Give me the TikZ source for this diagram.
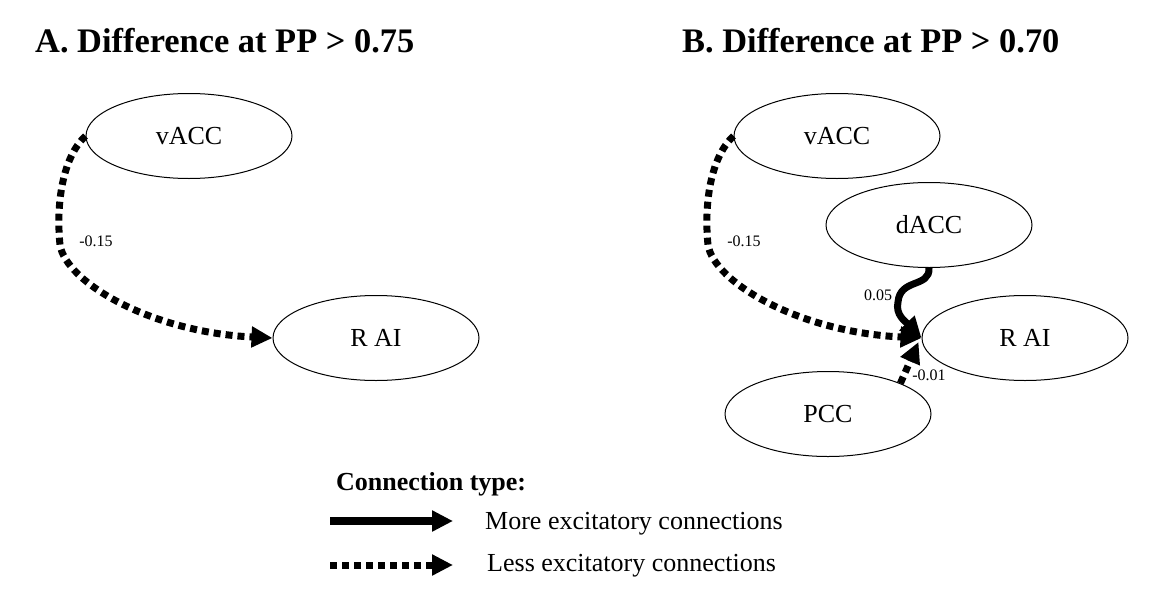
\documentclass[tikz,border=0pt]{standalone}
\usepackage{fontspec}
\setmainfont{Liberation Serif}
\usetikzlibrary{shapes.geometric,arrows.meta}
\begin{document}
\begin{tikzpicture}[x=1pt,y=-1pt,
  region/.style={ellipse,draw,line width=1pt,minimum width=206pt,minimum height=85pt,inner sep=0pt,font=\fontsize{26}{30}\selectfont},
  tipstyle/.style={-{Triangle[length=21pt,width=20pt]}},
  more/.style={tipstyle,line width=7pt},
  less/.style={tipstyle,line width=7pt,dash pattern=on 7pt off 5pt},
  wlab/.style={font=\fontsize{16}{18}\selectfont,inner sep=0pt},
  title/.style={font=\bfseries\fontsize{34.4}{40}\selectfont,anchor=base west,inner sep=0pt},
  legtext/.style={font=\fontsize{26}{30}\selectfont,anchor=base west,inner sep=0pt}]
\useasboundingbox (0,0) rectangle (1150,608);

% titles
\node[title] (ta) at (35,52) {A. Difference at PP > 0.75};
\node[title] (tb) at (682,52) {B. Difference at PP > 0.70};

% panel A
\node[region] (vACCa) at (189,136) {vACC};
\node[region] (RAIa) at (376,338) {R AI};
\coordinate (amid) at (60,245);
\draw[less] (vACCa.west) .. controls (62,158) and (56,205) .. (amid)
  .. controls (66,282) and (150,332) .. (RAIa.west);
\node[wlab] (la) at (96,241) {-0.15};

% panel B
\node[region] (vACCb) at (837,136) {vACC};
\node[region] (dACC) at (929,225) {dACC};
\node[region] (RAIb) at (1025,338) {R AI};
\node[region] (PCC) at (828,414) {PCC};
\coordinate (bmid) at (708,245);
\draw[less] (vACCb.west) .. controls (710,158) and (704,205) .. (bmid)
  .. controls (714,282) and (798,332) .. (RAIb.west);
\node[wlab] (lb) at (744,241) {-0.15};
\coordinate (swing) at (898,302);
\draw[more] (dACC.south) .. controls (930,288) and (900,278) .. (swing)
  .. controls (895,315) and (906,322) .. (RAIb.west);
\node[wlab] (lc) at (878,295) {0.05};
\draw[less] (PCC.23) -- ([shift={(-3,4)}]RAIb.west);
\node[wlab] (ld) at (929,375) {-0.01};

% legend
\node[legtext,font=\bfseries\fontsize{26}{30}\selectfont] (ctype) at (336,490) {Connection type:};
\coordinate (m1) at (330,521);
\coordinate (m2) at (453,521);
\draw[more,line width=8pt] (m1) -- (m2);
\node[legtext] (mtext) at (485,529) {More excitatory connections};
\coordinate (l1) at (330,565);
\coordinate (l2) at (453,565);
\draw[less] (l1) -- (l2);
\node[legtext] (ltext) at (487,571) {Less excitatory connections};
\end{tikzpicture}
\end{document}
